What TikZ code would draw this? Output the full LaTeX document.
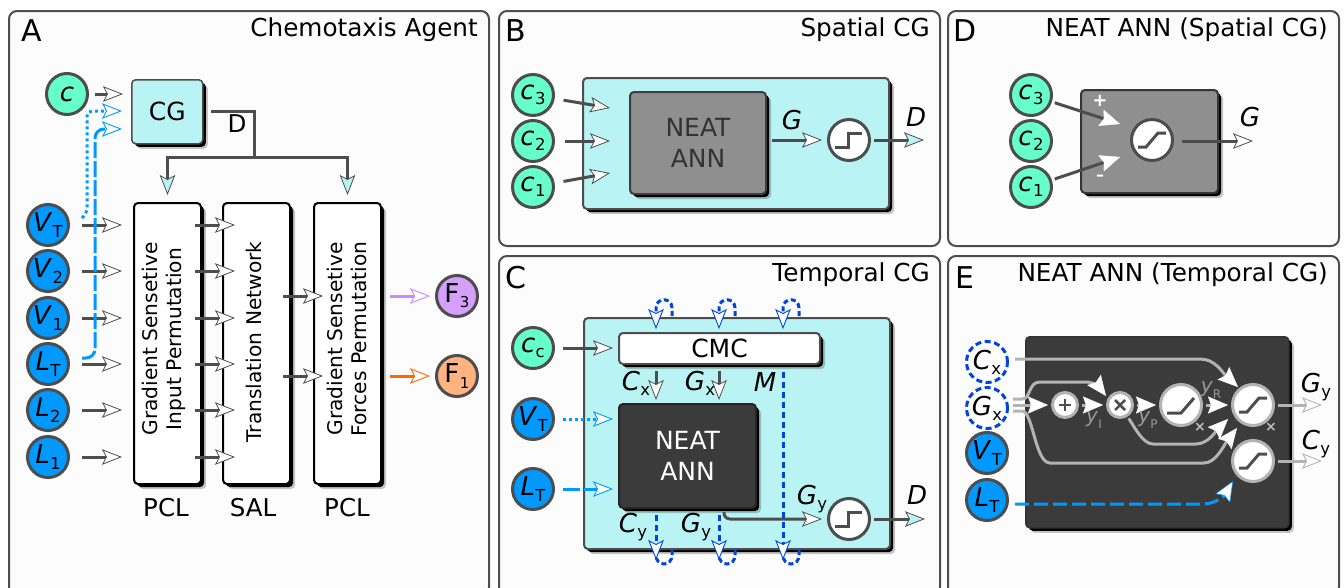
\documentclass[tikz,border=0pt]{standalone}
\usepackage{fontspec}
\setmainfont{DejaVu Sans}
\usetikzlibrary{arrows.meta,shadows,calc}
\definecolor{gline}{HTML}{4D4D4D}
\definecolor{teal1}{HTML}{BAF3F3}
\definecolor{mint}{HTML}{66FFCC}
\definecolor{azure}{HTML}{0099FF}
\definecolor{deepb}{HTML}{0044DD}
\definecolor{dark1}{HTML}{3B3B3B}
\definecolor{mid1}{HTML}{8F8F8F}
\definecolor{lg}{HTML}{B3B3B3}
\definecolor{purp}{RGB}{213,160,250}
\definecolor{purl}{RGB}{204,136,255}
\definecolor{oran}{RGB}{255,179,128}
\definecolor{orad}{RGB}{255,102,0}
\newcommand\fs[1]{\fontsize{#1}{#1}\selectfont}
\newcommand\vs[2]{\textit{#1}\kern.01em\raisebox{-.2em}{\fs{16.5}#2}}
\tikzset{
 tipw/.tip={Stealth[length=20pt,width=15.5pt,inset=4pt,fill=white,color=gline,line width=.8pt]},
 tipt/.tip={Stealth[length=20pt,width=15.5pt,inset=4pt,fill=teal1,color=gline,line width=.8pt]},
 tipb/.tip={Stealth[length=20pt,width=15.5pt,inset=4pt,fill=white,color=azure,line width=.9pt]},
 tipd/.tip={Stealth[length=20pt,width=15.5pt,inset=4pt,fill=white,color=deepb,line width=.9pt]},
 tipp/.tip={Stealth[length=20pt,width=15.5pt,inset=4pt,fill=white,color=lg,line width=.9pt]},
 tipo/.tip={Stealth[length=20pt,width=15.5pt,inset=4pt,fill=white,color=orad,line width=.9pt]},
 tipu/.tip={Stealth[length=20pt,width=15.5pt,inset=4pt,fill=white,color=purl,line width=.9pt]},
 tips/.tip={Stealth[length=20pt,width=17pt,inset=3pt,fill=white,color=white,line width=.3pt]},
 tipbs/.tip={Stealth[length=20pt,width=17pt,inset=3pt,fill=white,color=azure,line width=.5pt]},
 wire/.style={draw=gline,line width=3pt},
 awire/.style={wire,-{tipw}},
 twire/.style={wire,-{tipt}},
 dotb/.style={draw=azure,line width=3pt,dash pattern=on 3pt off 3pt,-{tipb}},
 dashb/.style={draw=azure,line width=3pt,dash pattern=on 16pt off 3pt,-{tipb}},
 dashd/.style={draw=deepb,line width=3pt,dash pattern=on 6pt off 4pt,-{tipd}},
 lwire/.style={draw=lg,line width=3pt,-{tips}},
 panel/.style={draw=gline,line width=2pt,rounded corners=8pt,fill=black!1},
 circ/.style={circle,draw=gline,line width=3pt,minimum size=41pt,inner sep=0pt,font=\fs{26}},
 cin/.style={circ,fill=mint},
 vin/.style={circ,fill=azure},
 opc/.style={circ,fill=white},
 smallop/.style={circ,fill=white,minimum size=25pt,draw=lg},
 lightop/.style={circ,fill=white,draw=lg},
 dashc/.style={circ,fill=white,draw=deepb,dash pattern=on 6pt off 3.5pt},
 shad/.style={general shadow={fill=black,opacity=.22,shadow xshift=5pt,shadow yshift=-5pt},
              general shadow={fill=black,shadow xshift=3pt,shadow yshift=-3pt}},
 bx/.style n args={4}{rectangle,rounded corners=4pt,anchor=north west,inner sep=0pt,
     minimum width=#3pt-#1pt,minimum height=#4pt-#2pt,at={(#1,#2)},shad},
 ptitle/.style={font=\fs{24.7},anchor=east,inner sep=0pt},
 pletter/.style={font=\fs{30},inner sep=0pt},
 lab/.style={font=\fs{26},inner sep=0pt},
 txt/.style={font=\fs{24.5},inner sep=0pt},
 icon/.style={draw=gline,line width=3pt},
 rtxt/.style={rotate=90,align=center,font=\fs{20.2},inner sep=0pt},
 gl/.style={font=\fs{20},text=black!40,inner sep=0pt},
}
\newcommand\stepicon[1]{\draw[icon] ([shift={(-14,7)}]#1.center) -- ++(13,0) -- ++(0,-14) -- ++(14,0);}
\newcommand\sigicon[1]{\draw[icon] ([shift={(-14,7)}]#1.center) -- ++(8,0) -- ++(12,-14) -- ++(8,0);}
\newcommand\rampicon[1]{\draw[icon] ([shift={(-14,8)}]#1.center) -- ++(14,0) -- ++(13,-15);}
\begin{document}
\begin{tikzpicture}[x=1pt,y=-1pt]
\useasboundingbox (0,0) rectangle (1344,587);
\fill[white] (0,0) rectangle (1344,587);
% panels
\begin{scope}
\clip (0,0) rectangle (1344,587);
\draw[panel] (9,11) rectangle (489,595);
\draw[panel] (499,11) rectangle (940,246);
\draw[panel] (948,11) rectangle (1339,246);
\draw[panel] (499,256) rectangle (940,595);
\draw[panel] (948,256) rectangle (1339,595);
\end{scope}
\node[pletter] (lA) at (32,31) {A};
\node[pletter] (lB) at (516,31) {B};
\node[pletter] (lD) at (965,31) {D};
\node[pletter] (lC) at (516,278) {C};
\node[pletter] (lE) at (965,278) {E};
\node[ptitle] (tA) at (478,29.5) {Chemotaxis Agent};
\node[ptitle] (tB) at (930,29.5) {Spatial CG};
\node[ptitle] (tD) at (1328,29.5) {NEAT ANN (Spatial CG)};
\node[ptitle] (tC) at (930,275) {Temporal CG};
\node[ptitle] (tE) at (1328,275) {NEAT ANN (Temporal CG)};

% ---------- Panel A
\node[cin] (c) at (67,94) {\textit{c}};
\node[vin] (vt) at (48,225) {\vs{V}{T}};
\node[vin] (v2) at (48,271) {\vs{V}{2}};
\node[vin] (v1) at (48,318) {\vs{V}{1}};
\node[vin] (lt) at (48,364) {\vs{L}{T}};
\node[vin] (l2) at (48,410) {\vs{L}{2}};
\node[vin] (l1) at (48,457) {\vs{L}{1}};
\node[bx={131}{79}{202}{143},draw=gline,line width=1.5pt,fill=teal1,font=\fs{25}] (cg) {CG};
\node[bx={133}{202}{200}{483},draw=black,line width=2pt,fill=white] (pa) {};
\node[bx={222}{202}{289}{483},draw=black,line width=2pt,fill=white] (pb) {};
\node[bx={313}{202}{380}{483},draw=black,line width=2pt,fill=white] (pc) {};
\node[rtxt] (pat) at (164,339) {Gradient Sensetive\\[3pt]Input Permutation};
\node[rtxt] (pbt) at (254,342) {Translation Network};
\node[rtxt] (pct) at (347,339) {Gradient Sensetive\\[3pt]Forces Permutation};
\node[txt] (pcl1) at (166,508) {PCL};
\node[txt] (sal) at (253,508) {SAL};
\node[txt] (pcl2) at (347,508) {PCL};
\node[circ,fill=purp,font=\fs{26}] (f3) at (457,296) {F\kern.02em\raisebox{-.2em}{\fs{15}3}};
\node[circ,fill=oran,font=\fs{26}] (f1) at (457,376) {F\kern.02em\raisebox{-.2em}{\fs{15}1}};
\draw[awire,shorten <=6pt,shorten >=8pt] (c) -- (c -| cg.west);
\coordinate (dstart) at (211,111);
\coordinate (dcorner) at (254,157);
\draw[wire] (dstart) -| (dcorner);
\draw[twire] (dcorner) -| ([yshift=7pt]pa.north);
\draw[twire] (dcorner) -| ([yshift=7pt]pc.north);
\node[txt] (dl) at (237,124) {D};
\foreach \n in {vt,v2,v1,lt,l2,l1}{
 \draw[awire,shorten <=12pt,shorten >=11pt] (\n) -- (\n -| pa.west);
 \draw[awire,shorten <=-7pt,shorten >=-13pt] (\n -| pa.east) -- (\n -| pb.west);
}
\draw[awire,shorten <=-8pt,shorten >=-10pt] (f3 -| pb.east) -- (f3 -| pc.west);
\draw[awire,shorten <=-8pt,shorten >=-10pt] (f1 -| pb.east) -- (f1 -| pc.west);
\draw[line width=3pt,draw=purl,-{tipu},shorten <=8pt,shorten >=5pt] (pc.east |- f3) -- (f3);
\draw[line width=3pt,draw=orad,-{tipo},shorten <=8pt,shorten >=5pt] (pc.east |- f1) -- (f1);
\coordinate (tipv) at (122,111);
\coordinate (tipl) at (122,129);
\draw[dotb,rounded corners=5pt] ([shift={(34,-7)}]vt.center) -- (87,213) -- (87,111) -- (tipv);
\draw[dashb,rounded corners=9pt] ([shift={(34,-6)}]lt.center) -- (95,358) -- (95,129) -- (tipl);

% ---------- Panel B
\node[bx={582}{77}{888}{208},draw=gline,line width=2pt,fill=teal1] (bt) {};
\node[bx={629}{91}{765}{193},draw=gline!80!black,line width=2pt,fill=mid1,align=center,font=\fs{25},text=black!80] (bn) {NEAT\\[6pt]ANN};
\node[cin] (c3b) at (533,95) {\vs{c}{3}};
\node[cin] (c2b) at (533,141) {\vs{c}{2}};
\node[cin] (c1b) at (533,187) {\vs{c}{1}};
\node[opc] (sb) at (849,140) {};
\stepicon{sb}
\coordinate (bi3) at (610,108);
\coordinate (bi2) at (610,141);
\coordinate (bi1) at (610,173);
\coordinate (bo) at (924,140);
\draw[awire,shorten <=9pt] (c3b) -- (bi3);
\draw[awire,shorten <=10pt] (c2b) -- (bi2);
\draw[awire,shorten <=9pt] (c1b) -- (bi1);
\draw[awire,shorten <=5pt,shorten >=5pt] (bn.east |- sb) -- (sb);
\draw[twire,shorten <=3pt] (sb) -- (bo);
\node[lab] (gb) at (792,120) {\textit{G}};
\node[lab] (db) at (916,117) {\textit{D}};

% ---------- Panel D
\node[bx={1080}{89}{1217}{192},draw=gline!70!black,line width=2pt,fill=mid1] (dbox) {};
\node[cin] (c3d) at (1031,95) {\vs{c}{3}};
\node[cin] (c2d) at (1031,141) {\vs{c}{2}};
\node[cin] (c1d) at (1031,187) {\vs{c}{1}};
\node[opc] (sd) at (1152,140) {};
\sigicon{sd}
\coordinate (di3) at (1120,124);
\coordinate (di1) at (1120,157);
\coordinate (doo) at (1253,141);
\draw[wire,-{tips},shorten <=3pt] (c3d) -- (di3);
\draw[wire,-{tips},shorten <=3pt] (c1d) -- (di1);
\draw[awire,shorten <=8pt] (sd.east |- doo) -- (doo);
\node[inner sep=0pt,font=\fs{18}\bfseries,text=white] (pl) at (1100,101) {+};
\node[inner sep=0pt,font=\fs{16}\bfseries,text=white] (mi) at (1100,178) {–};
\node[lab] (gd) at (1250,117) {\textit{G}};

% ---------- Panel C
\node[bx={583}{317}{889}{548},draw=gline,line width=2pt,fill=teal1] (ct) {};
\node[bx={618}{332}{819}{363},draw=gline,line width=2pt,fill=white,font=\fs{25}] (cmc) {CMC};
\node[bx={618}{403}{755}{507},draw=black!85,line width=2pt,fill=dark1,align=center,font=\fs{25},text=white] (cn) {NEAT\\[6pt]ANN};
\node[cin] (cc) at (533,348) {\vs{c}{c}};
\node[vin] (cvt) at (533,419) {\vs{V}{T}};
\node[vin] (clt) at (533,489) {\vs{L}{T}};
\node[opc] (sc) at (849,519) {};
\stepicon{sc}
\draw[awire,shorten <=8pt,shorten >=5pt] (cc) -- (cc -| cmc.west);
\draw[dotb,shorten <=8pt,shorten >=5pt] (cvt) -- (cvt -| cn.west);
\draw[dashb,dash pattern=on 17pt off 4pt,shorten <=8pt,shorten >=5pt] (clt) -- (clt -| cn.west);
\foreach \xx/\nm in {656/a,719/b,783/c}{
 \coordinate (tt\nm) at (\xx,329);
 \coordinate (bt\nm) at (\xx,560);
 \draw[dashd,dash pattern=on 5pt off 3pt] (\xx+16,316) -- (\xx+16,308) .. controls (\xx+16,297) and (\xx,297) .. (\xx,308) -- (tt\nm);
 \draw[draw=deepb,line width=3pt,dash pattern=on 5pt off 3pt] (\xx+16,550) -- (\xx+16,555) .. controls (\xx+16,567) and (\xx,567) .. (\xx,555);
}
\coordinate (cxa) at (656,400);
\coordinate (gxa) at (719,400);
\draw[awire] (cmc.south -| cxa) ++(0,6) -- (cxa);
\draw[awire] (cmc.south -| gxa) ++(0,6) -- (gxa);
\draw[dashd] (cmc.south -| btc) ++(0,7) -- (btc);
\draw[dashd] (cn.south -| bta) ++(0,6) -- (bta);
\draw[dashd] (cn.south -| btb) ++(0,6) -- (btb);
\coordinate (gyc) at (724,512);
\draw[awire,rounded corners=6pt,shorten >=5pt] (gyc) |- (sc);
\coordinate (coo) at (925,519);
\draw[twire,shorten <=3pt] (sc) -- (coo);
\node[lab] (cxl) at (636,383) {\vs{C}{x}};
\node[lab] (gxl) at (700,383) {\vs{G}{x}};
\node[lab] (ml) at (765,382) {\textit{M}};
\node[lab] (cyl) at (633,527) {\vs{C}{y}};
\node[lab] (gyl) at (696,527) {\vs{G}{y}};
\node[lab] (gy2) at (812,499) {\vs{G}{y}};
\node[lab] (dc) at (917,495) {\textit{D}};

% ---------- Panel E
\node[bx={1025}{336}{1288}{527},draw=black!80,line width=1.5pt,fill=dark1] (eb) {};
\node[dashc] (ecx) at (987,362) {\vs{C}{x}};
\node[dashc] (egx) at (987,408) {\vs{G}{x}};
\node[vin] (evt) at (987,453) {\vs{V}{T}};
\node[vin] (elt) at (987,500) {\vs{L}{T}};
\node[smallop] (plus) at (1065,405) {};
\node[smallop] (times) at (1120,405) {};
\node[lightop] (ramp) at (1181,405) {};
\node[lightop] (sig1) at (1253,405) {};
\node[lightop] (sig2) at (1253,461) {};
\draw[icon,line width=2pt] ([shift={(-6,0)}]plus.center) -- ++(12,0) ([shift={(0,-6)}]plus.center) -- ++(0,12);
\draw[icon,line width=2.5pt] ([shift={(-5,-5)}]times.center) -- ++(10,10) ([shift={(5,-5)}]times.center) -- ++(-10,10);
\rampicon{ramp}
\sigicon{sig1}
\sigicon{sig2}
\coordinate (cxs) at (1015,359);
\coordinate (g1) at (1013,399);
\coordinate (g2) at (1013,405);
\coordinate (g3) at (1013,411);
\coordinate (e1) at (1238,387);
\coordinate (t1) at (1106,396);
\coordinate (e2) at (1228,419);
\coordinate (e3) at (1237,428);
\coordinate (e4) at (1233,481);
\draw[lwire] (cxs) -- (1200,359) .. controls (1215,359) and (1222,372) .. (e1);
\draw[lwire] (g1) -- (1022,399) .. controls (1031,399) and (1028,382) .. (1040,382) -- (1086,382) .. controls (1094,382) and (1100,388) .. (t1);
\draw[lwire,shorten >=3pt] (g2) -- (plus);
\draw[lwire,shorten <=3pt,shorten >=3pt] (plus) -- (times);
\draw[lwire,shorten <=3pt,shorten >=3pt] (times) -- (ramp);
\draw[lwire,shorten <=3pt,shorten >=3pt] (ramp) -- (sig1);
\draw[lwire,shorten <=2pt] (times) .. controls (1135,428) and (1143,444) .. (1153,444) -- (1196,444) .. controls (1208,444) and (1216,431) .. (e2);
\draw[lwire] (g3) -- (1022,411) .. controls (1033,411) and (1035,463) .. (1050,463) -- (1204,463) .. controls (1216,463) and (1224,445) .. (e3);
\draw[draw=azure,line width=3pt,dash pattern=on 14pt off 5pt,-{tipbs}] (elt -| cxs) ++(0,4) -- (1202,504) .. controls (1216,504) and (1224,496) .. (e4);
\coordinate (og) at (1322,405);
\coordinate (oc) at (1322,461);
\draw[draw=lg,line width=3pt,-{tipp},shorten <=3pt] (sig1) -- (og);
\draw[draw=lg,line width=3pt,-{tipp},shorten <=3pt] (sig2) -- (oc);
\node[lab] (egy) at (1316,387) {\vs{G}{y}};
\node[lab] (ecy) at (1316,444) {\vs{C}{y}};
\node[gl] (yi) at (1094,420) {\textit{y}\raisebox{-.3em}{\fs{12}I}};
\node[gl] (yp) at (1148,420) {\textit{y}\raisebox{-.3em}{\fs{12}P}};
\node[gl] (yr) at (1211,390) {\textit{y}\raisebox{-.3em}{\fs{12}R}};
\node[inner sep=0pt,font=\fs{14}\bfseries,text=black!25] (x1) at (1200,427) {×};
\node[inner sep=0pt,font=\fs{14}\bfseries,text=black!25] (x2) at (1271,427) {×};
\end{tikzpicture}
\end{document}
